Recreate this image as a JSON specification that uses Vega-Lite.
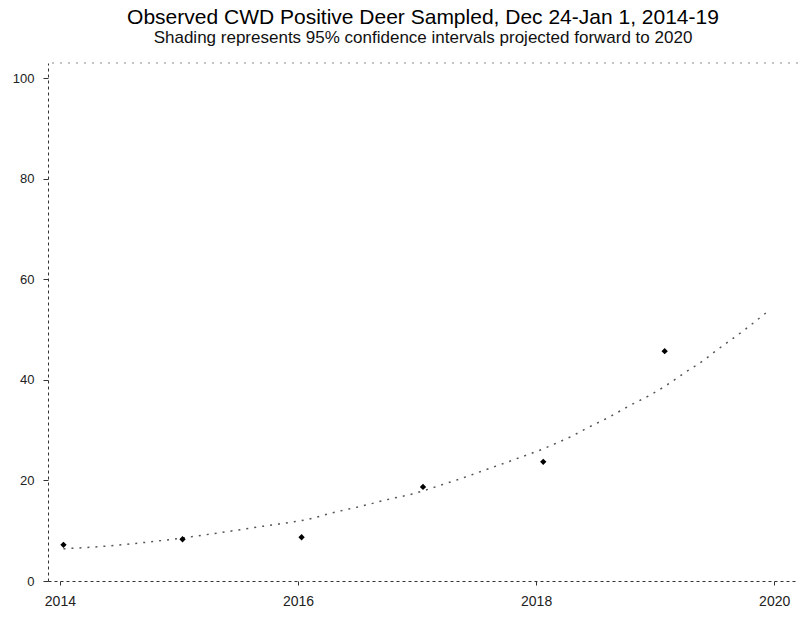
{
  "$schema": "https://vega.github.io/schema/vega-lite/v6.json",
  "width": 750,
  "height": 518,
  "autosize": "none",
  "padding": {"left": 48, "top": 63, "right": 8, "bottom": 37},
  "background": "white",
  "config": {
    "view": {"stroke": null},
    "font": "Liberation Sans",
    "axis": {
      "grid": false,
      "domainColor": "#333333",
      "domainDash": [3, 3],
      "tickColor": "#333333",
      "labelColor": "#222222",
      "labelFont": "Liberation Sans"
    }
  },
  "title": {
    "text": "Observed CWD Positive Deer Sampled, Dec 24-Jan 1, 2014-19",
    "subtitle": "Shading represents 95% confidence intervals projected forward to 2020",
    "fontSize": 21,
    "fontWeight": "normal",
    "font": "Liberation Sans",
    "color": "#000000",
    "subtitleFontSize": 17,
    "subtitleFont": "Liberation Sans",
    "subtitleColor": "#111111",
    "subtitlePadding": 2,
    "anchor": "middle",
    "offset": 17
  },
  "datasets": {
    "observed": [
      {"year": 2014.03, "positive": 7.2},
      {"year": 2015.03, "positive": 8.3},
      {"year": 2016.03, "positive": 8.7},
      {"year": 2017.05, "positive": 18.7},
      {"year": 2018.06, "positive": 23.7},
      {"year": 2019.08, "positive": 45.7}
    ],
    "fit": [
      {"year": 2014.03, "fitted": 6.4},
      {"year": 2014.42, "fitted": 7.0},
      {"year": 2014.56, "fitted": 7.3},
      {"year": 2014.98, "fitted": 8.4},
      {"year": 2015.4, "fitted": 9.8},
      {"year": 2015.71, "fitted": 10.9},
      {"year": 2015.83, "fitted": 11.3},
      {"year": 2016.09, "fitted": 12.3},
      {"year": 2016.28, "fitted": 13.5},
      {"year": 2016.57, "fitted": 15.1},
      {"year": 2016.77, "fitted": 16.3},
      {"year": 2016.96, "fitted": 17.3},
      {"year": 2017.23, "fitted": 19.3},
      {"year": 2017.41, "fitted": 20.7},
      {"year": 2017.55, "fitted": 21.9},
      {"year": 2017.73, "fitted": 23.4},
      {"year": 2017.88, "fitted": 24.7},
      {"year": 2018.02, "fitted": 25.9},
      {"year": 2018.17, "fitted": 27.4},
      {"year": 2018.3, "fitted": 28.8},
      {"year": 2018.42, "fitted": 30.3},
      {"year": 2018.63, "fitted": 32.8},
      {"year": 2018.78, "fitted": 34.8},
      {"year": 2018.96, "fitted": 37.0},
      {"year": 2019.1, "fitted": 39.0},
      {"year": 2019.26, "fitted": 41.6},
      {"year": 2019.42, "fitted": 44.1},
      {"year": 2019.49, "fitted": 45.4},
      {"year": 2019.76, "fitted": 50.1},
      {"year": 2019.93, "fitted": 53.3}
    ]
  },
  "layer": [
    {
      "data": {"name": "fit"},
      "mark": {"type": "line", "stroke": "#555555", "strokeDash": [2, 6], "strokeWidth": 1.5, "interpolate": "monotone"},
      "encoding": {
        "x": {
          "field": "year",
          "type": "quantitative",
          "title": null,
          "scale": {"domain": [2013.9, 2020.2], "nice": false, "zero": false},
          "axis": {
            "values": [2014, 2016, 2018, 2020],
            "format": "d",
            "tickSize": 4,
            "labelFontSize": 14,
            "labelPadding": 9
          }
        },
        "y": {
          "field": "fitted",
          "type": "quantitative",
          "title": null,
          "scale": {"domain": [0, 103], "nice": false},
          "axis": {
            "values": [0, 20, 40, 60, 80, 100],
            "tickSize": 5,
            "labelFontSize": 13,
            "labelPadding": 9
          }
        }
      }
    },
    {
      "data": {"name": "observed"},
      "mark": {"type": "point", "filled": true, "shape": "diamond", "size": 40, "color": "#000000", "opacity": 1},
      "encoding": {
        "x": {"field": "year", "type": "quantitative"},
        "y": {"field": "positive", "type": "quantitative"}
      }
    },
    {
      "data": {"values": [{}]},
      "mark": {"type": "rule", "stroke": "#888888", "strokeDash": [2, 6], "strokeWidth": 1},
      "encoding": {"y": {"datum": 103, "type": "quantitative"}}
    }
  ]
}
